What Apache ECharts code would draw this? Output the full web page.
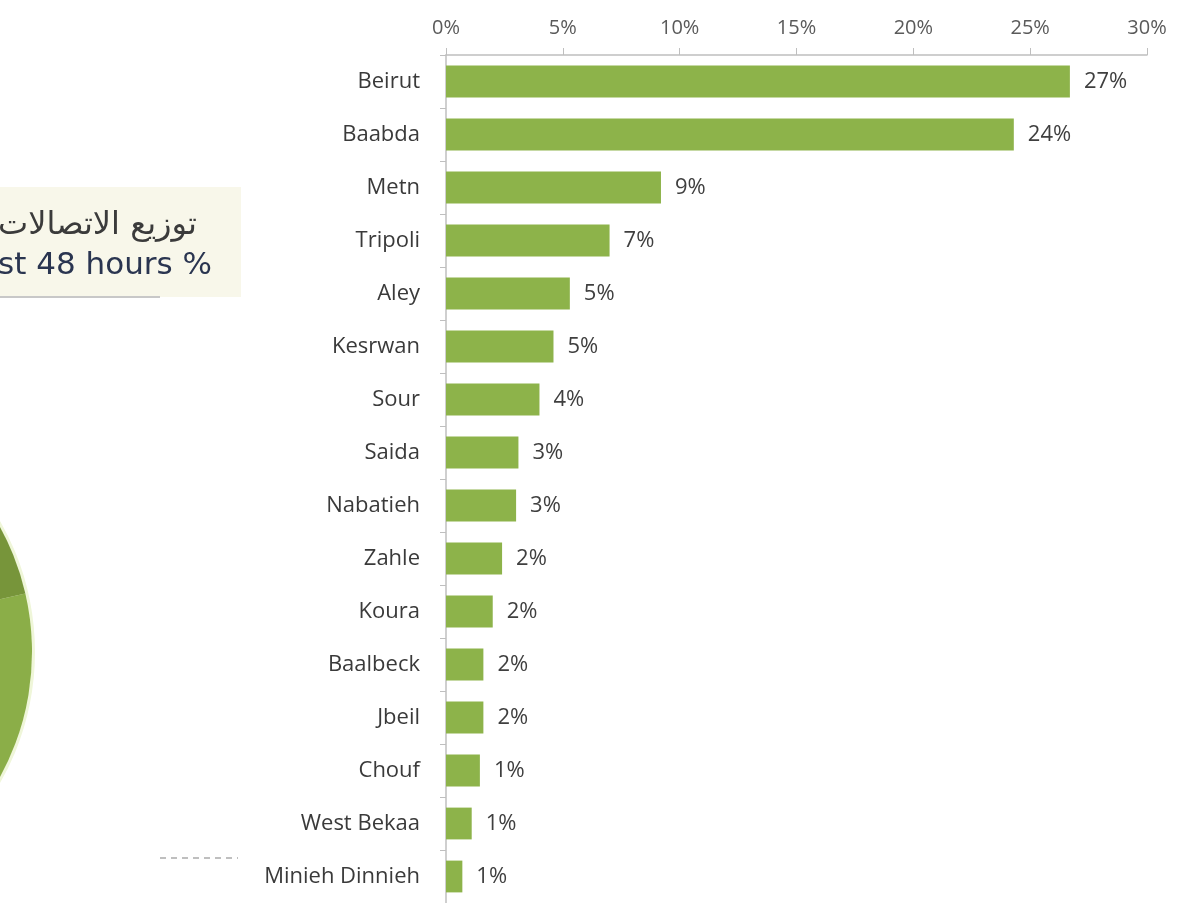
<!DOCTYPE html>
<html>
<head>
<meta charset="utf-8">
<title>Calls by district</title>
<script src="https://cdn.jsdelivr.net/npm/echarts@6/dist/echarts.min.js"></script>
<style>
    html, body { margin: 0; padding: 0; background: #fff; }
    #chart { width: 1191px; height: 903px; }
</style>
</head>
<body>
<div id="chart"></div>
<script>
// districts, top to bottom
var districts = ['Beirut', 'Baabda', 'Metn', 'Tripoli', 'Aley', 'Kesrwan', 'Sour', 'Saida',
    'Nabatieh', 'Zahle', 'Koura', 'Baalbeck', 'Jbeil', 'Chouf', 'West Bekaa', 'Minieh Dinnieh'];
// share of calls in %
var shares = [26.7, 24.3, 9.2, 7.0, 5.3, 4.6, 4.0, 3.1, 3.0, 2.4, 2.0, 1.6, 1.6, 1.45, 1.1, 0.7];
// labels as printed next to the bars
var shareLabels = ['27%', '24%', '9%', '7%', '5%', '5%', '4%', '3%', '3%', '2%', '2%', '2%', '2%', '1%', '1%', '1%'];
// x axis ticks
var xTicks = [0, 5, 10, 15, 20, 25, 30];

// the pie cut off at the left edge (only two slices visible, rest estimated)
var pieNames = ['light', 'other', 'dark'];
var pieValues = [30, 50, 20];

var chart = echarts.init(document.getElementById('chart'));

var option = {
    backgroundColor: '#ffffff',
    animation: false,
    textStyle: { fontFamily: 'Open Sans' },
    graphic: [
        { type: 'circle', shape: { cx: -228, cy: 652, r: 263 }, style: { fill: '#EFF6D9' }, z: -1 },
        { type: 'rect', shape: { x: 0, y: 187, width: 241, height: 110 }, style: { fill: '#F8F7EA' }, z: -1 },
        {
            type: 'text', x: 197, y: 226,
            style: { text: 'توزيع الاتصالات', align: 'right', verticalAlign: 'middle',
                fontSize: 32, fill: '#3b3b3b', fontFamily: 'DejaVu Sans' }
        },
        {
            type: 'text', x: 212, y: 266,
            style: { text: 'st 48 hours %', align: 'right', verticalAlign: 'middle',
                fontSize: 31, fill: '#2A3550', fontFamily: 'DejaVu Sans' }
        },
        { type: 'line', shape: { x1: 0, y1: 297, x2: 160, y2: 297 }, style: { stroke: '#C8C8C8', lineWidth: 2 } },
        { type: 'line', shape: { x1: 160, y1: 858, x2: 238, y2: 858 }, style: { stroke: '#AAAAAA', lineWidth: 1.5, lineDash: [6, 5] } }
    ],
    grid: {
        left: 446,
        right: 44,
        top: 55,
        height: 850
    },
    xAxis: {
        type: 'value',
        position: 'top',
        min: xTicks[0],
        max: xTicks[xTicks.length - 1],
        interval: xTicks[1] - xTicks[0],
        axisLine: { show: true, lineStyle: { color: '#BFBFBF', width: 1.5 } },
        axisTick: { show: true, length: 7, lineStyle: { color: '#BFBFBF' } },
        splitLine: { show: false },
        axisLabel: {
            formatter: '{value}%',
            margin: 17,
            fontSize: 20,
            color: '#5a5a5a'
        }
    },
    yAxis: {
        type: 'category',
        inverse: true,
        data: districts,
        axisLine: { show: true, lineStyle: { color: '#BFBFBF', width: 1.5 } },
        axisTick: { show: true, length: 6, lineStyle: { color: '#BFBFBF' } },
        axisLabel: {
            margin: 26,
            fontSize: 22,
            color: '#3a3a3a'
        }
    },
    series: [
        {
            type: 'bar',
            data: shares,
            barCategoryGap: '40%',
            itemStyle: { color: '#8DB34A' },
            label: {
                show: true,
                position: 'right',
                distance: 14,
                fontSize: 22,
                color: '#3f3f3f',
                formatter: function (p) { return shareLabels[p.dataIndex]; }
            }
        },
        {
            type: 'pie',
            center: [-228, 652],
            radius: 260,
            startAngle: 13,
            clockwise: true,
            silent: true,
            label: { show: false },
            labelLine: { show: false },
            data: pieNames.map(function (n, i) {
                return { name: n, value: pieValues[i] };
            }),
            color: ['#8BAE48', '#86A845', '#77953A']
        }
    ]
};
chart.setOption(option);
</script>
</body>
</html>
